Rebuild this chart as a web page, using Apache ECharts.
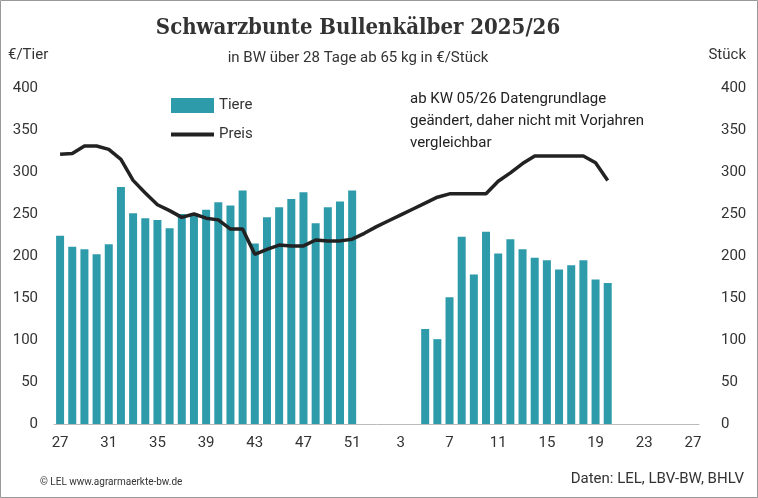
<!DOCTYPE html>
<html>
<head>
<meta charset="utf-8">
<script src="https://cdn.jsdelivr.net/npm/echarts@6/dist/echarts.min.js"></script>
<style>
  html, body { margin: 0; padding: 0; background: #fff; }
  #chart { width: 758px; height: 498px; }
</style>
</head>
<body>
<div id="chart"></div>
<script>
// Kalenderwochen 27/2025 bis 27/2026
var weeks = [];
for (var w = 27; w <= 52; w++) weeks.push(String(w));
for (var w2 = 1; w2 <= 27; w2++) weeks.push(String(w2));

// Tiere (Stück), '-' = keine Daten
var tiere = [224, 211, 208, 202, 214, 282, 251, 245, 243, 233, 250, 251, 255, 264, 260, 278, 215, 246, 258, 268, 276, 239, 258, 265, 278,
  '-', '-', '-', '-', '-',
  113, 101, 151, 223, 178, 229, 203, 220, 208, 198, 195, 184, 189, 195, 172, 168,
  '-', '-', '-', '-', '-', '-', '-'];

// Preis (€/Tier)
var preis = [321, 322, 331, 331, 327, 315, 290, 275, 261, 254, 246, 250, 245, 243, 232, 232, 202, 208, 213, 212, 212, 219, 218, 218, 220,
  227, 235, 242, 249, 256, 263, 270, 274, 274, 274, 274, 289, 299, 310, 319, 319, 319, 319, 319, 311, 290,
  '-', '-', '-', '-', '-', '-', '-'];

var chart = echarts.init(document.getElementById('chart'));
var txt = '#333';
var axisLabel = { color: txt, fontSize: 15, fontFamily: 'Roboto' };

chart.setOption({
  animation: false,
  textStyle: { fontFamily: 'Roboto' },
  title: {
    text: 'Schwarzbunte Bullenkälber 2025/26',
    subtext: 'in BW über 28 Tage ab 65 kg in €/Stück',
    left: 353, textAlign: 'center', top: 12,
    textStyle: { fontFamily: 'DejaVu Serif Condensed', fontWeight: 'bold', fontSize: 22, color: '#333' },
    subtextStyle: { fontSize: 15, color: '#333' },
    itemGap: 12
  },
  legend: {
    orient: 'vertical', left: 166, top: 93, itemGap: 14,
    itemWidth: 43, itemHeight: 15,
    textStyle: { fontSize: 15, color: txt },
    data: [{ name: 'Tiere', icon: 'rect' },
      { name: 'Preis', icon: 'path://M0,0 L43,0 L43,4 L0,4 Z', itemStyle: { color: '#222' } }]
  },
  grid: { left: 54, right: 59, top: 88, bottom: 74 },
  xAxis: {
    type: 'category', data: weeks,
    axisTick: { show: false },
    axisLine: { lineStyle: { color: '#bbb' } },
    axisLabel: Object.assign({ interval: 3, margin: 12 }, axisLabel)
  },
  yAxis: [
    { type: 'value', min: 0, max: 400, interval: 50, splitLine: { show: false },
      axisLabel: Object.assign({ margin: 16 }, axisLabel) },
    { type: 'value', min: 0, max: 400, interval: 50, splitLine: { show: false },
      axisLabel: Object.assign({ margin: 22 }, axisLabel) }
  ],
  series: [
    { name: 'Tiere', type: 'bar', yAxisIndex: 1, data: tiere, barWidth: 8,
      itemStyle: { color: '#2e9bab' } },
    { name: 'Preis', type: 'line', yAxisIndex: 0, data: preis, symbol: 'none',
      lineStyle: { color: '#222', width: 3.5 }, itemStyle: { color: '#222' } }
  ],
  graphic: [
    { type: 'rect', shape: { x: 0.5, y: 0.5, width: 757, height: 497 }, style: { fill: 'none', stroke: '#999' } },
    { type: 'text', left: 8, top: 48, style: { text: '€/Tier', fontSize: 15, fill: txt, fontFamily: 'Roboto' } },
    { type: 'text', right: 12, top: 48, style: { text: 'Stück', fontSize: 15, fill: txt, fontFamily: 'Roboto' } },
    { type: 'text', left: 410, top: 88, style: { text: 'ab KW 05/26 Datengrundlage\ngeändert, daher nicht mit Vorjahren\nvergleichbar', fontSize: 15, lineHeight: 22, fill: '#222', fontFamily: 'Roboto' } },
    { type: 'text', left: 40, top: 477, style: { text: '© LEL www.agrarmaerkte-bw.de', fontSize: 10, fill: txt, fontFamily: 'Roboto' } },
    { type: 'text', right: 14, top: 472, style: { text: 'Daten: LEL, LBV-BW, BHLV', fontSize: 15, fill: txt, fontFamily: 'Roboto' } }
  ]
});
</script>
</body>
</html>
